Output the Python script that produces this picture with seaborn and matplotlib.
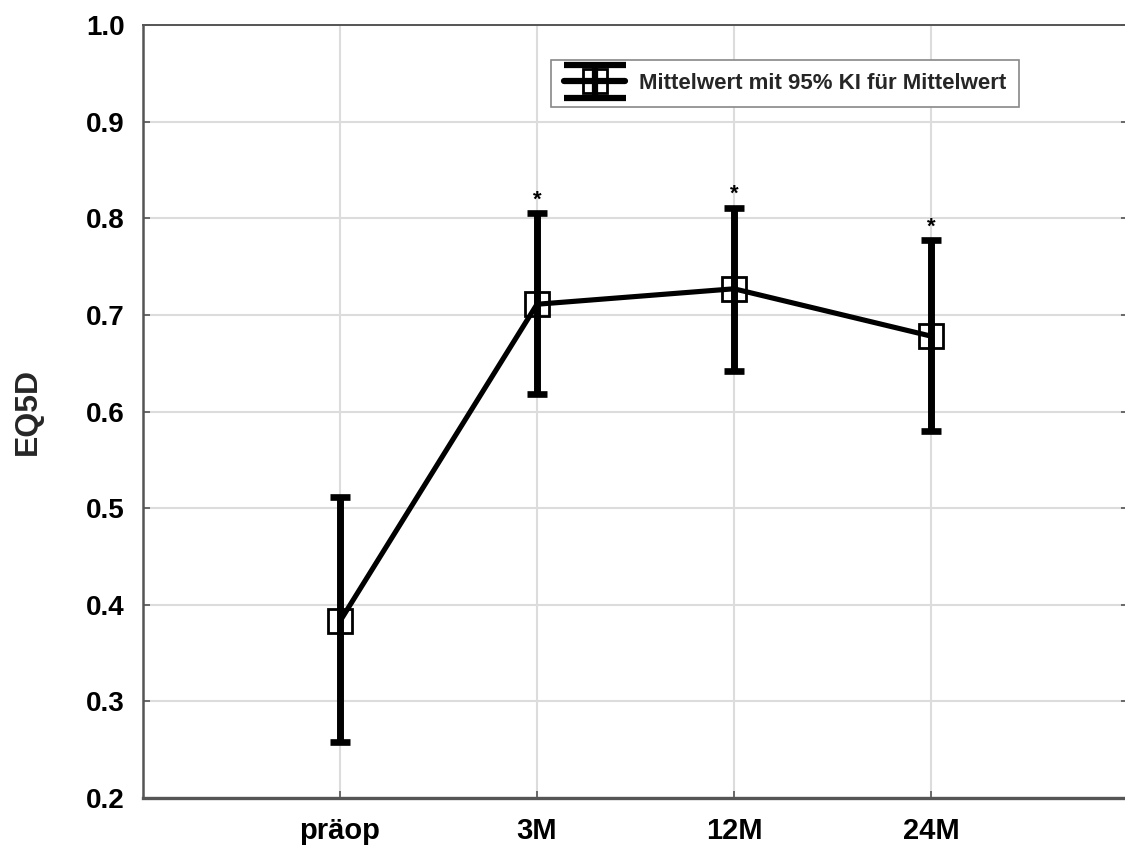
import matplotlib
matplotlib.use("Agg")
import numpy as np
import matplotlib.pyplot as plt
import seaborn as sns
import pandas as pd
from matplotlib.legend_handler import HandlerErrorbar
from matplotlib.lines import Line2D

# ---- data ----
categories = ["präop", "3M", "12M", "24M"]
means = [0.383, 0.711, 0.727, 0.678]
ci_low = [0.258, 0.618, 0.642, 0.580]
ci_high = [0.512, 0.805, 0.811, 0.777]
significant = [False, True, True, True]
yticks = [0.2, 0.3, 0.4, 0.5, 0.6, 0.7, 0.8, 0.9, 1.0]
legend_label = "Mittelwert mit 95% KI für Mittelwert"
ylabel = "EQ5D"

sns.set_theme(style="whitegrid")
plt.rcParams["font.family"] = ["Liberation Sans", "DejaVu Sans"]

W, H = 1125, 848
fig = plt.figure(figsize=(W / 100, H / 100), dpi=100)
fig.patch.set_facecolor("white")
left, right, top, bottom = 143, 1128, 25, 798
ax = fig.add_axes([left / W, (H - bottom) / H, (right - left) / W, (bottom - top) / H])
ax.set_facecolor("white")

df = pd.DataFrame({"Zeitpunkt": categories, "EQ5D": means})
sns.pointplot(data=df, x="Zeitpunkt", y="EQ5D", ax=ax, color="black",
              markers="s", linestyles="-", errorbar=None,
              linewidth=3.7, markersize=17, markeredgewidth=2.0,
              markerfacecolor="none", zorder=4)

xs = list(range(len(categories)))
yerr = [[m - lo for m, lo in zip(means, ci_low)], [hi - m for m, hi in zip(means, ci_high)]]
ax.errorbar(xs, means, yerr=yerr, fmt="none", ecolor="black",
            elinewidth=5.0, capsize=7.5, capthick=4.8, zorder=3)

for x, hi, s in zip(xs, ci_high, significant):
    if s:
        ax.annotate("*", xy=(x, hi), xytext=(0, 2), textcoords="offset points",
                    ha="center", va="bottom", fontsize=16, fontweight="bold", color="black")

# legend proxy (NaN data, so nothing is drawn in the axes)
proxy = ax.errorbar([np.nan], [np.nan], yerr=[[np.nan], [np.nan]], fmt="s-",
                    color="black", ecolor="black", linewidth=4.5, elinewidth=4.5,
                    capsize=22, capthick=4.5, markersize=17, markerfacecolor="none",
                    markeredgewidth=2.0)


class ThickCapHandler(HandlerErrorbar):
    def create_artists(self, *args, **kwargs):
        arts = super().create_artists(*args, **kwargs)
        for a in arts:
            if isinstance(a, Line2D) and a.get_marker() in ("_", "|"):
                a.set_markeredgewidth(4.5)
        return arts


ax.set_xlim(-1, 4)
ax.set_ylim(0.2, 1.0)
ax.set_yticks(yticks)
ax.set_yticklabels([f"{t:.1f}" for t in yticks])
ax.set_xticks(xs)
ax.set_xticklabels(categories)
ax.set_xlabel("")
ax.set_ylabel(ylabel, fontsize=23, fontweight="bold", labelpad=31)

ax.grid(True, color="#dcdcdc", linewidth=1.5)
ax.set_axisbelow(True)
for side in ["left", "bottom", "top", "right"]:
    ax.spines[side].set_visible(True)
    ax.spines[side].set_color("#555555")
ax.spines["left"].set_linewidth(1.8)
ax.spines["bottom"].set_linewidth(2.4)
ax.spines["top"].set_linewidth(1.4)
ax.spines["right"].set_linewidth(1.4)

ax.tick_params(axis="y", which="both", direction="in", length=5, width=1.2, colors="#555555",
               labelcolor="black", labelsize=20, pad=13, left=True, right=True)
ax.tick_params(axis="x", which="both", direction="in", length=5, width=1.2, colors="#555555",
               labelcolor="black", labelsize=21, pad=14, bottom=True, top=False)
for lab in ax.get_xticklabels() + ax.get_yticklabels():
    lab.set_fontweight("bold")

leg = ax.legend(handles=[proxy], labels=[legend_label], loc="upper left",
                bbox_to_anchor=(0.414, 0.955), borderaxespad=0, frameon=True,
                fancybox=False, edgecolor="#888888", framealpha=1,
                prop={"size": 16, "weight": "bold"}, handlelength=2.75,
                borderpad=0.6, handletextpad=0.6,
                handler_map={type(proxy): ThickCapHandler(xerr_size=0.5, yerr_size=0.75)})
leg.get_frame().set_linewidth(1.2)

fig.savefig("out.png", dpi=100, facecolor="white")
